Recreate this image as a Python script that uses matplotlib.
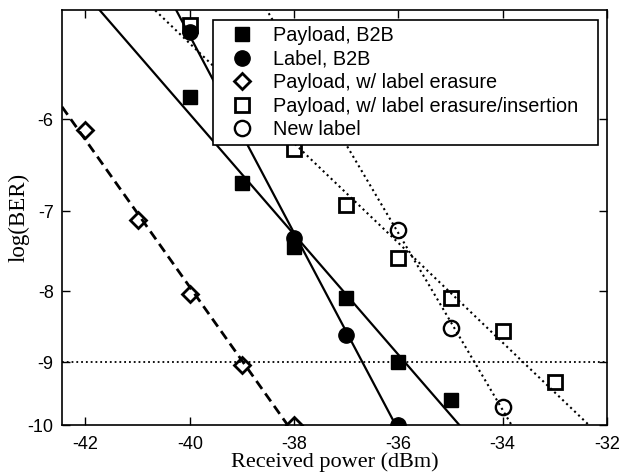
import matplotlib
matplotlib.use("Agg")
import matplotlib.pyplot as plt
import numpy as np

# received power (dBm) and log10(BER) for each measured curve
payload_b2b_x = [-40, -39, -38, -37, -36, -35]
payload_b2b_y = [-5.78, -6.67, -7.43, -8.09, -9.0, -9.59]

label_b2b_x = [-40, -38, -37, -36]
label_b2b_y = [-5.19, -7.32, -8.60, -10.0]

erasure_x = [-42, -41, -40, -39, -38]
erasure_y = [-6.11, -7.10, -8.04, -9.05, -10.0]

insertion_x = [-40, -38, -37, -36, -35, -34, -33]
insertion_y = [-5.13, -6.31, -6.93, -7.57, -8.09, -8.55, -9.31]

new_label_x = [-36, -35, -34]
new_label_y = [-7.22, -8.50, -9.70]

labels = ["Payload, B2B", "Label, B2B", "Payload, w/ label erasure",
          "Payload, w/ label erasure/insertion", "New label"]

x_ticks = [-42, -40, -38, -36, -34, -32]
y_ticks = [-10, -9, -8, -7, -6]
ber_limit = -9


#BER axis: straight lines in log10(-log(BER))
def fwd(y):
    return -np.log10(np.abs(y))


def inv(v):
    return -10.0 ** (-v)


#Linear fit in the transformed space, evaluated over the whole x range.
def fit_line(x, y, xr):
    k, m = np.polyfit(x, np.log10(-np.array(y)), 1)
    xr = np.array(xr)
    return xr, -10.0 ** (k * xr + m)


plt.rcParams['axes.unicode_minus'] = False
fig = plt.figure(figsize=(6.2, 4.75), dpi=100)
ax = fig.add_axes([0.1, 0.105, 0.879, 0.874])
ax.set_yscale('function', functions=(fwd, inv))

xr = [-42.45, -32]
lw = 1.6
ax.plot(*fit_line(payload_b2b_x, payload_b2b_y, xr), '-', color='k', lw=lw)
ax.plot(*fit_line(label_b2b_x, label_b2b_y, xr), '-', color='k', lw=lw)
ax.plot(*fit_line(erasure_x, erasure_y, xr), '--', color='k', lw=2, dashes=(3.5, 2))
ax.plot(*fit_line(insertion_x, insertion_y, xr), ':', color='k', lw=1.5)
ax.plot(*fit_line(new_label_x, new_label_y, xr), ':', color='k', lw=1.5)
ax.axhline(ber_limit, color='k', ls=':', lw=1.3)

ax.plot(payload_b2b_x, payload_b2b_y, 's', color='k', ms=10, label=labels[0])
ax.plot(label_b2b_x, label_b2b_y, 'o', color='k', ms=11, label=labels[1])
ax.plot(erasure_x, erasure_y, 'D', mfc='none', mec='k', mew=2, ms=8, label=labels[2])
ax.plot(insertion_x, insertion_y, 's', mfc='none', mec='k', mew=2, ms=10, label=labels[3])
ax.plot(new_label_x, new_label_y, 'o', mfc='none', mec='k', mew=1.7, ms=11, label=labels[4])

ax.set_xlim(-42.45, -32)
ax.set_ylim(-10, -5)
ax.set_xticks(x_ticks)
ax.set_xticklabels([str(t) for t in x_ticks])
ax.set_yticks(y_ticks)
ax.set_yticklabels([str(t) for t in y_ticks])
ax.minorticks_off()
ax.tick_params(direction='in', length=6, width=1, top=True, right=True,
               labelsize=13, pad=6)
ax.tick_params(axis='x', pad=7.5)
for lab in ax.get_xticklabels() + ax.get_yticklabels():
    lab.set_family('Liberation Sans')
for s in ax.spines.values():
    s.set_linewidth(1.2)

ax.set_xlabel("Received power (dBm)", family='Liberation Serif', fontsize=16, labelpad=0)
ax.set_ylabel("log(BER)", family='Liberation Serif', fontsize=16.5, labelpad=-1)

leg = ax.legend(loc='upper left', bbox_to_anchor=(0.277, 0, 0.7065, 0.976),
                mode='expand', borderaxespad=0,
                prop={'family': 'Liberation Sans', 'size': 14.3},
                frameon=True, fancybox=False, framealpha=1, edgecolor='k',
                labelspacing=0.23, handletextpad=0.4,
                borderpad=0.3, handlelength=2.3)
leg.get_frame().set_linewidth(1.2)

fig.savefig("out.png", dpi=100)
